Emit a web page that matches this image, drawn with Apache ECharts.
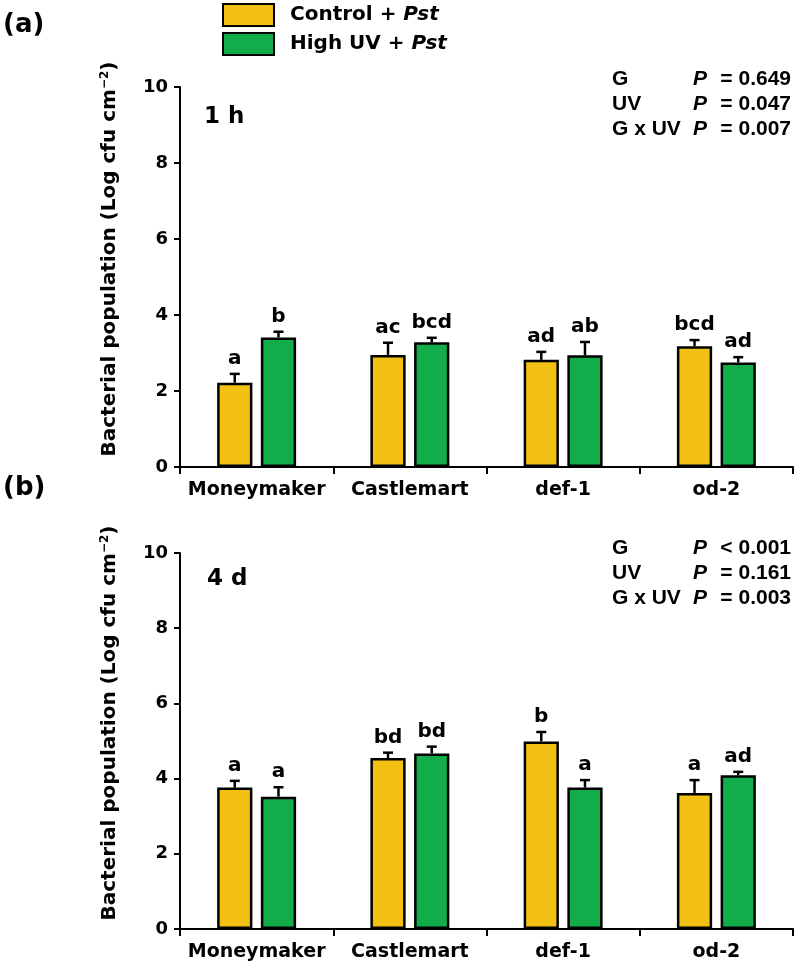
<!DOCTYPE html>
<html>
<head>
<meta charset="utf-8">
<script src="https://cdn.jsdelivr.net/npm/echarts@6/dist/echarts.min.js"></script>
<style>
html,body{margin:0;padding:0;background:#fff;}
#chart{width:800px;height:972px;}
</style>
</head>
<body>
<div id="chart"></div>
<script>
// ---- data ----
const categories = ['Moneymaker', 'Castlemart', 'def-1', 'od-2'];
const seriesNames = ['Control + Pst', 'High UV + Pst'];
const yTicks = [0, 2, 4, 6, 8, 10];

const control1h = [2.22, 2.95, 2.82, 3.18];
const control1hErr = [0.23, 0.32, 0.21, 0.16];
const highUV1h = [3.41, 3.28, 2.94, 2.75];
const highUV1hErr = [0.15, 0.12, 0.35, 0.14];
const control1hLetters = ['a', 'ac', 'ad', 'bcd'];
const highUV1hLetters = ['b', 'bcd', 'ab', 'ad'];

const control4d = [3.76, 4.55, 4.99, 3.62];
const control4dErr = [0.18, 0.14, 0.25, 0.34];
const highUV4d = [3.52, 4.67, 3.76, 4.09];
const highUV4dErr = [0.25, 0.18, 0.20, 0.09];
const control4dLetters = ['a', 'bd', 'b', 'a'];
const highUV4dLetters = ['a', 'bd', 'a', 'ad'];

const panelLabels = ['(a)', '(b)'];
const timeLabels = ['1 h', '4 d'];
const statNames = ['G', 'UV', 'G x UV'];
const stats1h = ['= 0.649', '= 0.047', '= 0.007'];
const stats4d = ['< 0.001', '= 0.161', '= 0.003'];

// ---- styles ----
const FONT = '"DejaVu Sans", "Liberation Sans", Arial, sans-serif';
const FONT2 = '"Liberation Sans", Arial, sans-serif';
const YELLOW = '#F2C114';
const GREEN = '#12AC4B';
const BAR_W = 0.23, GAP = 0.24;

const chart = echarts.init(document.getElementById('chart'), null, {renderer: 'canvas'});

const grids = [
  {left: 180, top: 87, width: 613, height: 380},
  {left: 180, top: 553, width: 613, height: 376}
];

function xAxis(gi) {
  return {
    type: 'category', gridIndex: gi, data: categories,
    axisLine: {lineStyle: {color: '#000', width: 2}},
    axisTick: {show: true, interval: 0, length: 7, lineStyle: {color: '#000', width: 2}},
    axisLabel: {interval: 0, color: '#000', fontFamily: FONT, fontWeight: 'bold', fontSize: 19, margin: 14}
  };
}
function yAxis(gi) {
  return {
    type: 'value', gridIndex: gi, min: yTicks[0], max: yTicks[yTicks.length - 1], interval: 2,
    splitLine: {show: false},
    axisLine: {show: true, lineStyle: {color: '#000', width: 2}},
    axisTick: {show: true, length: 6, lineStyle: {color: '#000', width: 2}},
    axisLabel: {color: '#000', fontFamily: FONT, fontWeight: 'bold', fontSize: 18, margin: 12},
    name: 'Bacterial population (Log cfu cm{sup|−2})',
    nameLocation: 'middle', nameGap: 60, nameRotate: 90,
    nameTextStyle: {color: '#000', fontFamily: FONT, fontWeight: 'bold', fontSize: 20, padding: [0, 0, 0, 36],
      rich: {sup: {fontFamily: FONT, fontWeight: 'bold', fontSize: 12, verticalAlign: 'top', padding: [0, 0, 9, 0]}}}
  };
}

function barSeries(name, gi, data, color) {
  return {
    name: name, type: 'bar', xAxisIndex: gi, yAxisIndex: gi, data: data,
    barWidth: (BAR_W * 100) + '%', barGap: (GAP * 100) + '%',
    itemStyle: {color: color, borderColor: '#000', borderWidth: 2.5},
    emphasis: {disabled: true}
  };
}

function errSeries(gi, vals, errs, letters, sign) {
  return {
    type: 'custom', xAxisIndex: gi, yAxisIndex: gi, z: 5, clip: false,
    data: vals.map((v, i) => [i, v, errs[i]]),
    encode: {x: 0, y: 1},
    renderItem: function (params, api) {
      const i = api.value(0), v = api.value(1), e = api.value(2);
      const band = api.size([1, 0])[0];
      const bw = band * BAR_W;
      const off = sign * (bw + bw * GAP) / 2;
      const base = api.coord([i, v]);
      const top = api.coord([i, v + e]);
      const cx = base[0] + off;
      const st = {stroke: '#000', lineWidth: 2.5};
      return {
        type: 'group',
        children: [
          {type: 'line', shape: {x1: cx, y1: base[1], x2: cx, y2: top[1]}, style: st},
          {type: 'line', shape: {x1: cx - 5, y1: top[1], x2: cx + 5, y2: top[1]}, style: st},
          {type: 'text', style: {x: cx, y: top[1] - 5, text: letters[params.dataIndex], align: 'center', verticalAlign: 'bottom',
            font: 'bold 20px ' + FONT, fill: '#000'}}
        ]
      };
    }
  };
}

function statGraphics(top, values) {
  const g = [];
  values.forEach((val, k) => {
    const y = top + k * 25;
    g.push({type: 'text', left: 612, top: y, style: {text: statNames[k], font: 'bold 21px ' + FONT2, fill: '#000'}});
    g.push({type: 'text', left: 693, top: y, style: {text: 'P', font: 'italic bold 21px ' + FONT2, fill: '#000'}});
    g.push({type: 'text', right: 9, top: y, style: {text: val, font: 'bold 21px ' + FONT2, fill: '#000'}});
  });
  return g;
}

const option = {
  backgroundColor: '#fff',
  animation: false,
  legend: {
    data: seriesNames, orient: 'vertical', left: 222, top: 3, padding: 0,
    itemWidth: 51, itemHeight: 22, itemGap: 5, icon: 'rect', selectedMode: false,
    itemStyle: {borderColor: '#000', borderWidth: 2},
    formatter: function (n) { return n.replace(' + Pst', ' + ') + '{i|Pst}'; },
    textStyle: {color: '#000', fontFamily: FONT, fontWeight: 'bold', fontSize: 20, padding: [0, 0, 0, 11],
      rich: {i: {fontStyle: 'italic', fontWeight: 'bold', fontSize: 20, fontFamily: FONT}}}
  },
  grid: grids,
  xAxis: [xAxis(0), xAxis(1)],
  yAxis: [yAxis(0), yAxis(1)],
  series: [
    barSeries(seriesNames[0], 0, control1h, YELLOW),
    barSeries(seriesNames[1], 0, highUV1h, GREEN),
    barSeries(seriesNames[0], 1, control4d, YELLOW),
    barSeries(seriesNames[1], 1, highUV4d, GREEN),
    errSeries(0, control1h, control1hErr, control1hLetters, -1),
    errSeries(0, highUV1h, highUV1hErr, highUV1hLetters, 1),
    errSeries(1, control4d, control4dErr, control4dLetters, -1),
    errSeries(1, highUV4d, highUV4dErr, highUV4dLetters, 1)
  ],
  graphic: [
    {type: 'text', left: 3, top: 12, style: {text: panelLabels[0], font: 'bold 26px ' + FONT, fill: '#000'}},
    {type: 'text', left: 3, top: 475, style: {text: panelLabels[1], font: 'bold 26px ' + FONT, fill: '#000'}},
    {type: 'text', left: 204, top: 106, style: {text: timeLabels[0], font: 'bold 23px ' + FONT, fill: '#000'}},
    {type: 'text', left: 207, top: 568, style: {text: timeLabels[1], font: 'bold 23px ' + FONT, fill: '#000'}}
  ].concat(statGraphics(69, stats1h)).concat(statGraphics(538, stats4d))
};
chart.setOption(option);
</script>
</body>
</html>
